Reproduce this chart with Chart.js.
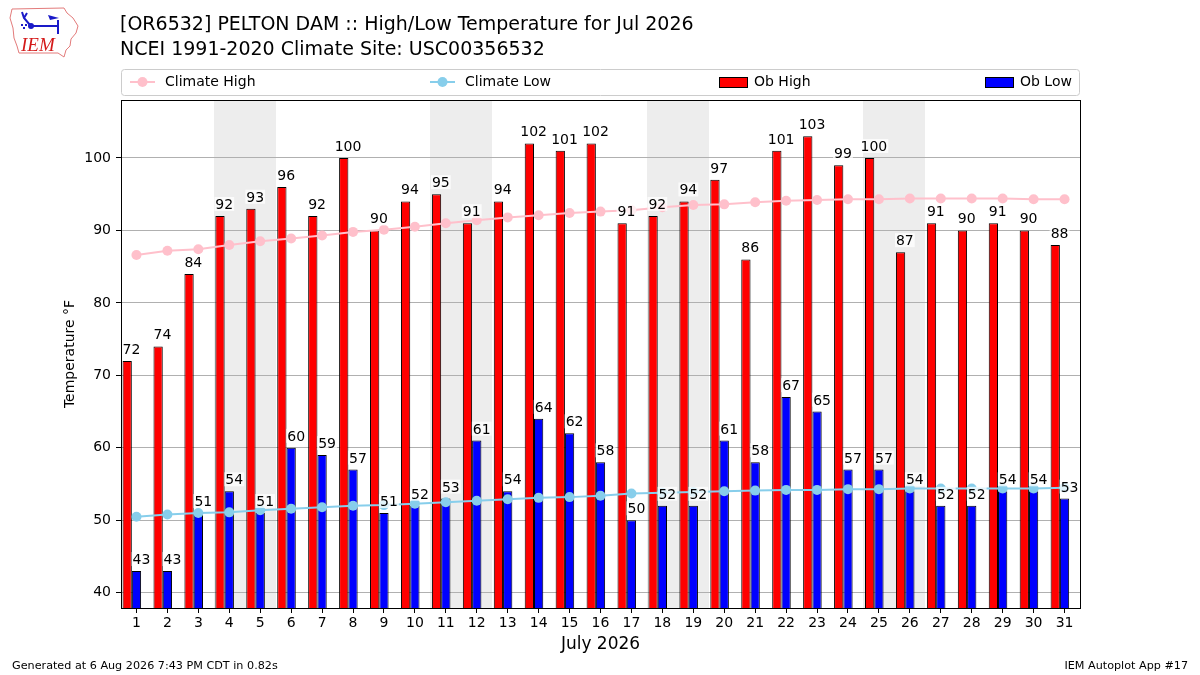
<!DOCTYPE html>
<html>
<head>
<meta charset="utf-8">
<script src="https://cdn.jsdelivr.net/npm/chart.js@4.4.0/dist/chart.umd.min.js"></script>
<style>
  html, body { margin: 0; padding: 0; background: #fff; }
  canvas { display: block; }
</style>
</head>
<body>
<canvas id="myChart" width="1200" height="675"></canvas>
<script>
// data
const days = ['1','2','3','4','5','6','7','8','9','10','11','12','13','14','15','16',
              '17','18','19','20','21','22','23','24','25','26','27','28','29','30','31'];
const obHigh = [72,74,84,92,93,96,92,100,90,94,95,91,94,102,101,102,
                91,92,94,97,86,101,103,99,100,87,91,90,91,90,88];
const obLow = [43,43,51,54,51,60,59,57,51,52,53,61,54,64,62,58,
               50,52,52,61,58,67,65,57,57,54,52,52,54,54,53];
const climHigh = [86.6,87.2,87.4,88.0,88.5,88.9,89.3,89.8,90.1,90.5,91.0,91.4,91.8,92.1,92.4,92.6,
                  92.8,93.2,93.5,93.6,93.9,94.1,94.2,94.3,94.3,94.4,94.4,94.4,94.4,94.3,94.3];
const climLow = [50.5,50.8,51.0,51.1,51.4,51.6,51.8,52.0,52.1,52.3,52.5,52.7,52.9,53.1,53.2,53.4,
                 53.7,53.8,53.9,54.0,54.1,54.2,54.2,54.3,54.3,54.4,54.4,54.4,54.4,54.4,54.5];
const weekendDays = [4,5,11,12,18,19,25,26];
const yTicks = [40,50,60,70,80,90,100];

const FONT = '"DejaVu Sans", sans-serif';
Chart.defaults.font.family = FONT;
Chart.defaults.color = '#000';

function drawLogo(ctx) {
  ctx.save();
  ctx.strokeStyle = '#e37b7b';
  ctx.lineWidth = 1;
  const pts = [[12,9],[64,8],[67,13],[73,18],[78,26],[76,33],[71,39],[70,46],[66,50],[64,57],
               [58,53],[19,53],[17,46],[14,38],[13,28],[10,18]];
  ctx.beginPath();
  pts.forEach((p, i) => i ? ctx.lineTo(p[0], p[1]) : ctx.moveTo(p[0], p[1]));
  ctx.closePath();
  ctx.stroke();
  // little blue station glyph
  ctx.strokeStyle = '#1a1ac8';
  ctx.fillStyle = '#1a1ac8';
  ctx.lineWidth = 2;
  ctx.beginPath();
  ctx.moveTo(31, 26); ctx.lineTo(59, 26);
  ctx.moveTo(58, 20); ctx.lineTo(58, 34);
  ctx.moveTo(30, 25); ctx.lineTo(24, 18); ctx.lineTo(22, 12);
  ctx.moveTo(24, 18); ctx.lineTo(27, 13);
  ctx.stroke();
  ctx.beginPath(); ctx.arc(31, 26, 3, 0, Math.PI * 2); ctx.fill();
  ctx.beginPath(); ctx.moveTo(48, 15); ctx.lineTo(59, 18); ctx.lineTo(50, 20); ctx.closePath(); ctx.fill();
  ctx.fillRect(23, 27, 2, 2); ctx.fillRect(25, 24, 2, 2); ctx.fillRect(21, 24, 2, 2);
  ctx.fillStyle = '#d41a1a';
  ctx.font = 'italic 19px "Liberation Serif", serif';
  ctx.textAlign = 'left';
  ctx.textBaseline = 'alphabetic';
  ctx.fillText('IEM', 21, 51);
  ctx.restore();
}

const decor = {
  id: 'decor',
  beforeDraw(chart) {
    const { ctx, chartArea: a, scales: { x } } = chart;
    ctx.save();
    ctx.fillStyle = '#fff';
    ctx.fillRect(0, 0, chart.width, chart.height);
    ctx.fillStyle = '#ededed';
    const half = (x.getPixelForValue(1) - x.getPixelForValue(0)) / 2;
    weekendDays.forEach(d => {
      const l = Math.round(x.getPixelForValue(d - 1) - half);
      const r = Math.round(x.getPixelForValue(d - 1) + half);
      ctx.fillRect(l, a.top, r - l, a.bottom - a.top);
    });
    ctx.restore();
  },
  afterDatasetsDraw(chart) {
    const { ctx, scales: { x, y } } = chart;
    ctx.save();
    ctx.font = '14px ' + FONT;
    ctx.textAlign = 'center';
    ctx.textBaseline = 'alphabetic';
    const put = (txt, px, py) => {
      const w = ctx.measureText(txt).width;
      ctx.fillStyle = 'rgba(255,255,255,0.75)';
      ctx.fillRect(px - w / 2 - 1, py - 12, w + 2, 14);
      ctx.fillStyle = '#000';
      ctx.fillText(txt, px, py);
    };
    obHigh.forEach((v, i) => put(String(v), x.getPixelForValue(i) - 5, y.getPixelForValue(v) - 7));
    obLow.forEach((v, i) => put(String(v), x.getPixelForValue(i) + 5, y.getPixelForValue(v) - 7));
    ctx.restore();
  },
  afterDraw(chart) {
    const { ctx, chartArea: a } = chart;
    ctx.save();
    // frame
    ctx.strokeStyle = '#000';
    ctx.lineWidth = 1;
    ctx.strokeRect(Math.round(a.left) + 0.5, Math.round(a.top) + 0.5,
                   Math.round(a.right - a.left), Math.round(a.bottom - a.top));

    // title
    ctx.fillStyle = '#000';
    ctx.textAlign = 'left';
    ctx.textBaseline = 'alphabetic';
    ctx.font = '19px ' + FONT;
    ctx.fillText('[OR6532] PELTON DAM :: High/Low Temperature for Jul 2026', 120, 30);
    ctx.fillText('NCEI 1991-2020 Climate Site: USC00356532', 120, 55);

    // legend
    ctx.strokeStyle = '#cccccc';
    ctx.fillStyle = '#fff';
    ctx.beginPath();
    ctx.roundRect(121.5, 69.5, 958, 26, 3);
    ctx.fill();
    ctx.stroke();
    const slots = [130, 430, 719, 985];
    ctx.font = '14px ' + FONT;
    ctx.textBaseline = 'middle';
    chart.data.datasets.slice(0, 4).forEach((ds, i) => {
      const lx = slots[i], ly = 82;
      if (ds.type === 'line') {
        ctx.strokeStyle = ds.borderColor;
        ctx.lineWidth = 2;
        ctx.beginPath(); ctx.moveTo(lx, ly); ctx.lineTo(lx + 25, ly); ctx.stroke();
        ctx.fillStyle = ds.backgroundColor;
        ctx.beginPath(); ctx.arc(lx + 12.5, ly, 5, 0, Math.PI * 2); ctx.fill();
      } else {
        ctx.fillStyle = ds.backgroundColor;
        ctx.fillRect(lx, ly - 5, 28, 10);
        ctx.strokeStyle = '#000';
        ctx.lineWidth = 1;
        ctx.strokeRect(lx + 0.5, ly - 4.5, 28, 10);
      }
      ctx.fillStyle = '#000';
      ctx.fillText(ds.label, lx + 35, ly);
    });

    // footer
    ctx.font = '11.2px ' + FONT;
    ctx.textBaseline = 'alphabetic';
    ctx.fillText('Generated at 6 Aug 2026 7:43 PM CDT in 0.82s', 12, 669);
    ctx.textAlign = 'right';
    ctx.fillText('IEM Autoplot App #17', 1188, 669);
    ctx.restore();

    drawLogo(ctx);
  }
};

const ctx = document.getElementById('myChart');
const myChart = new Chart(ctx, {
  data: {
    labels: days,
    datasets: [
      { type: 'line', label: 'Climate High', data: climHigh, borderColor: '#ffc0cb', backgroundColor: '#ffc0cb',
        borderWidth: 2, pointRadius: 5, pointBorderWidth: 0, order: 0 },
      { type: 'line', label: 'Climate Low', data: climLow, borderColor: '#87ceeb', backgroundColor: '#87ceeb',
        borderWidth: 2, pointRadius: 5, pointBorderWidth: 0, order: 0 },
      { type: 'bar', label: 'Ob High', data: obHigh, backgroundColor: '#ff0000', borderColor: '#000',
        borderWidth: 1, borderSkipped: 'start', inflateAmount: 0, categoryPercentage: 0.9, barPercentage: 1, order: 1 },
      { type: 'bar', label: 'Ob Low', data: obLow, backgroundColor: '#0000ff', borderColor: '#000',
        borderWidth: 1, borderSkipped: 'start', inflateAmount: 0, categoryPercentage: 0.9, barPercentage: 1, order: 1 },
      // empty slot so the pair sits a little left of the day centre
      { type: 'bar', label: '', data: days.map(() => null), categoryPercentage: 0.9, barPercentage: 1, order: 1 }
    ]
  },
  options: {
    responsive: false,
    maintainAspectRatio: false,
    devicePixelRatio: 1,
    animation: false,
    layout: { padding: { top: 100, right: 120, left: 58, bottom: 20 } },
    plugins: { legend: { display: false }, tooltip: { enabled: false } },
    scales: {
      x: {
        grid: { drawOnChartArea: false, offset: false, tickColor: '#000', tickLength: 5 },
        border: { color: '#000' },
        ticks: { font: { size: 14 }, padding: 2, maxRotation: 0, autoSkip: false },
        title: { display: true, text: 'July 2026', font: { size: 17 }, padding: { top: 2, bottom: 0 } },
        afterFit: s => { s.height = 47; }
      },
      y: {
        min: 37.9,
        max: 108,
        afterBuildTicks: s => { s.ticks = yTicks.map(v => ({ value: v })); },
        grid: { color: '#b0b0b0', tickColor: '#000', tickLength: 5 },
        border: { color: '#000' },
        ticks: { font: { size: 14 }, padding: 5 },
        title: { display: true, text: 'Temperature °F', font: { size: 14 }, padding: { top: 4, bottom: 4 } },
        afterFit: s => { s.width = 63; }
      }
    }
  },
  plugins: [decor]
});
</script>
</body>
</html>
